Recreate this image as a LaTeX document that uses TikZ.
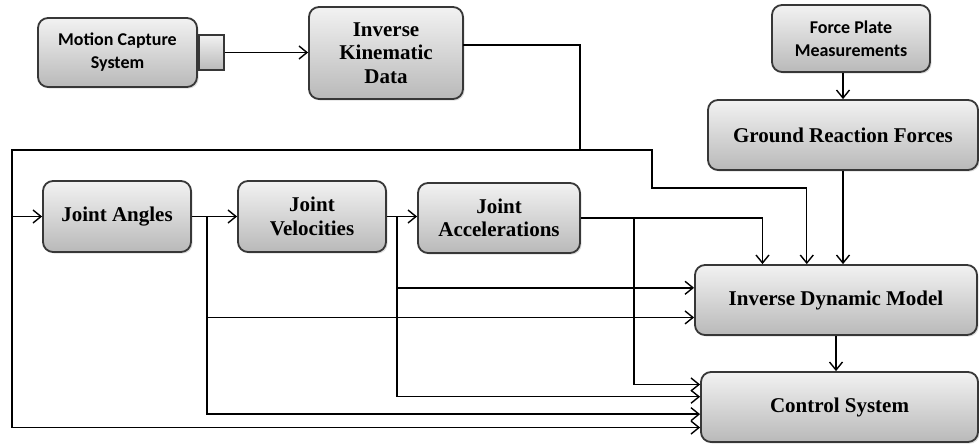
\documentclass[tikz,border=0pt]{standalone}
\usepackage{fontspec}
\setmainfont{Liberation Serif}
\newfontfamily\labelsans{Carlito}
\usepackage{tikz}
\usetikzlibrary{arrows.meta, positioning, calc, shadows}
\definecolor{boxedge}{RGB}{55,55,55}
\definecolor{boxtop}{RGB}{242,242,242}
\definecolor{boxbot}{RGB}{185,185,185}

\begin{document}
\begin{tikzpicture}[x=0.5pt, y=-0.5pt,
  blk/.style={draw=boxedge, top color=boxtop, bottom color=boxbot,
    rounded corners=5pt, line width=0.9pt, align=center, inner sep=2pt,
    font=\fontsize{10.5}{11.8}\selectfont\bfseries,
    drop shadow={shadow xshift=0.8pt, shadow yshift=-0.8pt, opacity=0.25}},
  sblk/.style={blk, font=\labelsans\fontsize{9}{11.5}\selectfont\bfseries},
  port/.style={draw=boxedge, top color=boxtop, bottom color=boxbot,
    line width=0.9pt, minimum width=12.5pt, minimum height=17.5pt, inner sep=0pt},
  arr/.style={-{Straight Barb[length=4pt, width=6.5pt]}, line width=0.7pt}
]
\useasboundingbox (0,0) rectangle (979,445);

% sources
\node[sblk, minimum width=79.5pt, minimum height=34.5pt] (mocap) at (117.5,52.5)
  {Motion Capture\\System};
\node[port, anchor=west] (port) at (mocap.east) {};
\node[blk, minimum width=77pt, minimum height=46pt] (ikd) at (386,53)
  {Inverse\\Kinematic\\Data};
\node[sblk, minimum width=79pt, minimum height=33.5pt] (fpm) at (851,38.5)
  {Force Plate\\Measurements};
\node[blk, minimum width=135pt, minimum height=35pt] (grf) at (843,135)
  {Ground Reaction Forces};

% kinematics chain
\node[blk, minimum width=74pt, minimum height=35.5pt] (angles) at (117,216.5)
  {Joint Angles};
\node[blk, minimum width=74pt, minimum height=35.5pt] (vel) at (312,216.5)
  {Joint\\Velocities};
\node[blk, minimum width=81pt, minimum height=35pt] (acc) at (499,218)
  {Joint\\Accelerations};

% model and controller
\node[blk, minimum width=141pt, minimum height=35pt] (idm) at (836,300)
  {Inverse Dynamic Model};
\node[blk, minimum width=138.5pt, minimum height=35pt] (cs) at (839.5,407)
  {Control System};

% routing points
\coordinate (ikout) at (463,45);
\coordinate (fb) at (580,150);
\coordinate (fbl) at (12,150);
\coordinate (kin) at (652,188);
\coordinate (jL) at (12,216.5);
\coordinate (jA) at (207,216.5);
\coordinate (jV) at (397,216.5);
\coordinate (jC) at (634,218);

% connectors
\draw[arr] (port.east) -- (port.east -| ikd.west);
\draw[arr] (ikout) -| (fb) -- (fbl) |- (angles.west);
\draw[arr] (fb) -| (kin) -| ($(idm.north west)!0.397!(idm.north east)$);
\draw[arr] (grf.north |- fpm.south) -- (grf.north);
\draw[arr] (grf.south) -- (grf.south |- idm.north);
\draw[arr] (angles.east) -- (vel.west);
\draw[arr] (vel.east) -- (vel.east -| acc.west);
\draw[arr] (acc.east) -| ($(idm.north west)!0.241!(idm.north east)$);
\draw[arr] (jV) |- ($(idm.south west)!0.67!(idm.north west)$);
\draw[arr] (jA) |- ($(idm.south west)!0.257!(idm.north west)$);
\draw[arr] (idm.south) -- (idm.south |- cs.north);
\draw[arr] (jC) |- ($(cs.south west)!0.814!(cs.north west)$);
\draw[arr] (jV) |- ($(cs.south west)!0.643!(cs.north west)$);
\draw[arr] (jA) |- ($(cs.south west)!0.4!(cs.north west)$);
\draw[arr] (jL) |- ($(cs.south west)!0.214!(cs.north west)$);
\end{tikzpicture}
\end{document}
